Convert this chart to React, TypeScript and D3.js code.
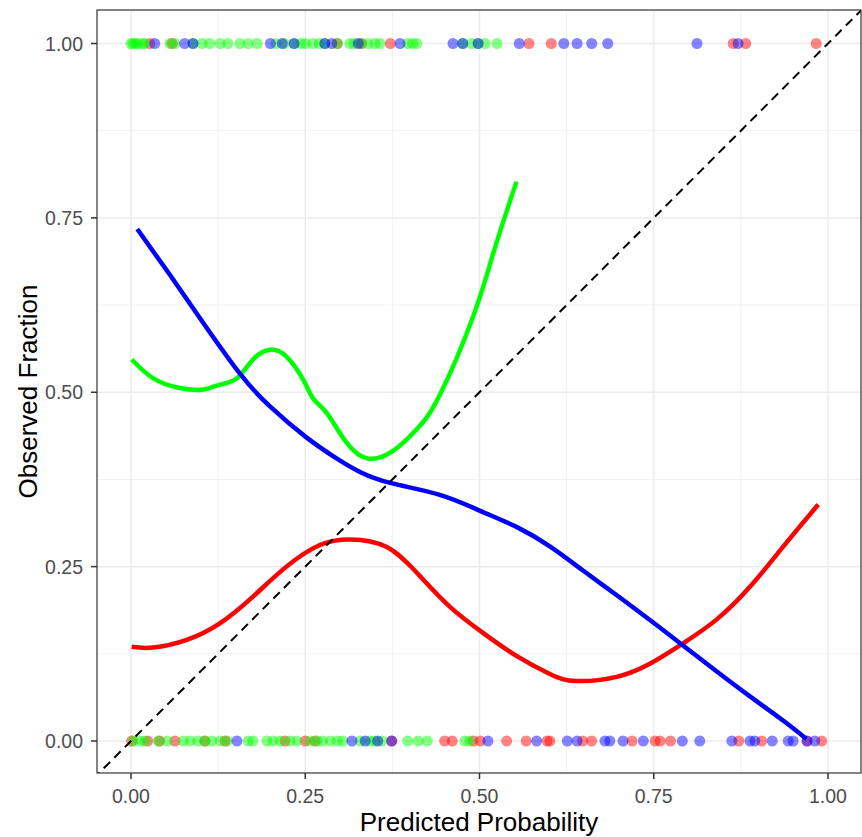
import React from "react";
import * as d3 from "d3";

// smoothed calibration curves, [predicted, observed]
const redCurve: [number, number][] = [
  [0.001, 0.135], [0.032, 0.134], [0.08, 0.145], [0.128, 0.169], [0.175, 0.207],
  [0.223, 0.25], [0.271, 0.281], [0.314, 0.289], [0.367, 0.278], [0.415, 0.236],
  [0.458, 0.192], [0.505, 0.155], [0.553, 0.122], [0.601, 0.096], [0.639, 0.086],
  [0.697, 0.092], [0.745, 0.111], [0.792, 0.14], [0.84, 0.174], [0.888, 0.221],
  [0.936, 0.279], [0.986, 0.339],
];
const greenCurve: [number, number][] = [
  [0.001, 0.547], [0.032, 0.52], [0.07, 0.506], [0.104, 0.504], [0.128, 0.511],
  [0.152, 0.52], [0.175, 0.547], [0.199, 0.561], [0.223, 0.551], [0.247, 0.518],
  [0.262, 0.49], [0.281, 0.47], [0.309, 0.428], [0.34, 0.405], [0.376, 0.416],
  [0.41, 0.447], [0.443, 0.496], [0.491, 0.609], [0.52, 0.7], [0.553, 0.802],
];
const blueCurve: [number, number][] = [
  [0.009, 0.734], [0.056, 0.668], [0.104, 0.599], [0.156, 0.527], [0.199, 0.48],
  [0.252, 0.435], [0.3, 0.402], [0.33, 0.385], [0.372, 0.37], [0.443, 0.353],
  [0.501, 0.33], [0.553, 0.307], [0.601, 0.279], [0.649, 0.244], [0.697, 0.209],
  [0.745, 0.173], [0.792, 0.137], [0.84, 0.1], [0.888, 0.064], [0.936, 0.029],
  [0.969, 0.003],
];

// observed outcomes (points at 0 and 1), predicted probability per case
const redAtOne = [0.027, 0.059, 0.296, 0.331, 0.372, 0.571, 0.603, 0.864, 0.882, 0.983];
const greenAtOne = [
  0.0, 0.003, 0.007, 0.01, 0.017, 0.02, 0.056, 0.063, 0.089, 0.102, 0.113, 0.128,
  0.139, 0.156, 0.168, 0.181, 0.208, 0.22, 0.234, 0.244, 0.25, 0.261, 0.27, 0.278,
  0.296, 0.314, 0.32, 0.33, 0.34, 0.35, 0.357, 0.397, 0.404, 0.41, 0.476, 0.489,
  0.498, 0.508, 0.525,
];
const blueAtOne = [
  0.034, 0.077, 0.089, 0.2, 0.217, 0.234, 0.278, 0.288, 0.326, 0.386, 0.462, 0.476,
  0.498, 0.557, 0.621, 0.64, 0.661, 0.684, 0.812, 0.871,
];
const redAtZero = [
  0.001, 0.024, 0.041, 0.063, 0.106, 0.135, 0.221, 0.25, 0.264, 0.374, 0.45, 0.461,
  0.491, 0.501, 0.539, 0.567, 0.597, 0.601, 0.648, 0.661, 0.719, 0.752, 0.759,
  0.774, 0.872, 0.905, 0.97, 0.991,
];
const greenAtZero = [
  0.003, 0.013, 0.02, 0.039, 0.052, 0.075, 0.085, 0.096, 0.106, 0.116, 0.128, 0.138,
  0.168, 0.175, 0.195, 0.204, 0.214, 0.228, 0.238, 0.257, 0.267, 0.275, 0.286,
  0.296, 0.304, 0.329, 0.343, 0.35, 0.36, 0.397, 0.412, 0.425, 0.479, 0.486,
];
const blueAtZero = [
  0.152, 0.317, 0.336, 0.354, 0.374, 0.512, 0.582, 0.626, 0.64, 0.68, 0.687, 0.706,
  0.735, 0.791, 0.816, 0.862, 0.888, 0.895, 0.92, 0.943, 0.95, 0.97, 0.981,
];

const majorTicks = [0, 0.25, 0.5, 0.75, 1];
const minorTicks = [0.125, 0.375, 0.625, 0.875];

const width = 862;
const height = 837;
const panel = { left: 97, right: 861, top: 10, bottom: 773 };
const font = "'Liberation Sans', Arial, Helvetica, sans-serif";

export default function App() {
  const x = d3.scaleLinear().domain([0, 1]).range([131, 828]);
  const y = d3.scaleLinear().domain([0, 1]).range([741, 43.5]);
  const line = d3
    .line<[number, number]>()
    .x((d) => x(d[0]))
    .y((d) => y(d[1]))
    .curve(d3.curveNatural);

  const series = [
    { color: "#FF0000", curve: redCurve, one: redAtOne, zero: redAtZero },
    { color: "#00FF00", curve: greenCurve, one: greenAtOne, zero: greenAtZero },
    { color: "#0000FF", curve: blueCurve, one: blueAtOne, zero: blueAtZero },
  ];

  const pw = panel.right - panel.left;
  const ph = panel.bottom - panel.top;

  return (
    <svg width={width} height={height} style={{ display: "block", position: "absolute", left: 0, top: 0 }}>
      <defs>
        <clipPath id="panel-clip">
          <rect x={panel.left} y={panel.top} width={pw} height={ph} />
        </clipPath>
      </defs>
      <rect x={0} y={0} width={width} height={height} fill="#fff" />

      {/* grid */}
      {minorTicks.map((t) => (
        <g key={"mn" + t}>
          <line x1={x(t)} x2={x(t)} y1={panel.top} y2={panel.bottom} stroke="#EFEFEF" strokeWidth={0.9} />
          <line x1={panel.left} x2={panel.right} y1={y(t)} y2={y(t)} stroke="#EFEFEF" strokeWidth={0.9} />
        </g>
      ))}
      {majorTicks.map((t) => (
        <g key={"mj" + t}>
          <line x1={x(t)} x2={x(t)} y1={panel.top} y2={panel.bottom} stroke="#EBEBEB" strokeWidth={1.5} />
          <line x1={panel.left} x2={panel.right} y1={y(t)} y2={y(t)} stroke="#EBEBEB" strokeWidth={1.5} />
        </g>
      ))}

      <g clipPath="url(#panel-clip)">
        {/* points */}
        {series.map((s) => (
          <g key={"p" + s.color} fill={s.color} fillOpacity={0.48}>
            {s.one.map((v, i) => (
              <circle key={"o" + i} cx={x(v)} cy={y(1)} r={5.5} />
            ))}
            {s.zero.map((v, i) => (
              <circle key={"z" + i} cx={x(v)} cy={y(0)} r={5.5} />
            ))}
          </g>
        ))}

        {/* curves */}
        {series.map((s) => (
          <path key={"c" + s.color} d={line(s.curve) || ""} fill="none" stroke={s.color} strokeWidth={4.5} />
        ))}

        {/* perfect calibration */}
        <line
          x1={x(-0.1)}
          y1={y(-0.1)}
          x2={x(1.1)}
          y2={y(1.1)}
          stroke="#000"
          strokeWidth={2}
          strokeDasharray="9 6"
        />
      </g>

      <rect x={panel.left} y={panel.top} width={pw} height={ph} fill="none" stroke="#333" strokeWidth={1.2} />

      {/* x axis */}
      {majorTicks.map((t) => (
        <g key={"xt" + t}>
          <line x1={x(t)} x2={x(t)} y1={panel.bottom} y2={panel.bottom + 6} stroke="#333" strokeWidth={1.5} />
          <text x={x(t)} y={803} textAnchor="middle" fontFamily={font} fontSize={19.5} fill="#4D4D4D">
            {d3.format(".2f")(t)}
          </text>
        </g>
      ))}
      {/* y axis */}
      {majorTicks.map((t) => (
        <g key={"yt" + t}>
          <line x1={panel.left - 6} x2={panel.left} y1={y(t)} y2={y(t)} stroke="#333" strokeWidth={1.5} />
          <text x={83} y={y(t) + 7} textAnchor="end" fontFamily={font} fontSize={19.5} fill="#4D4D4D">
            {d3.format(".2f")(t)}
          </text>
        </g>
      ))}

      <text x={(panel.left + panel.right) / 2} y={831} textAnchor="middle" fontFamily={font} fontSize={26} fill="#000">
        Predicted Probability
      </text>
      <text
        transform={`translate(37, ${(panel.top + panel.bottom) / 2}) rotate(-90)`}
        textAnchor="middle"
        fontFamily={font}
        fontSize={26}
        fill="#000"
      >
        Observed Fraction
      </text>
    </svg>
  );
}
